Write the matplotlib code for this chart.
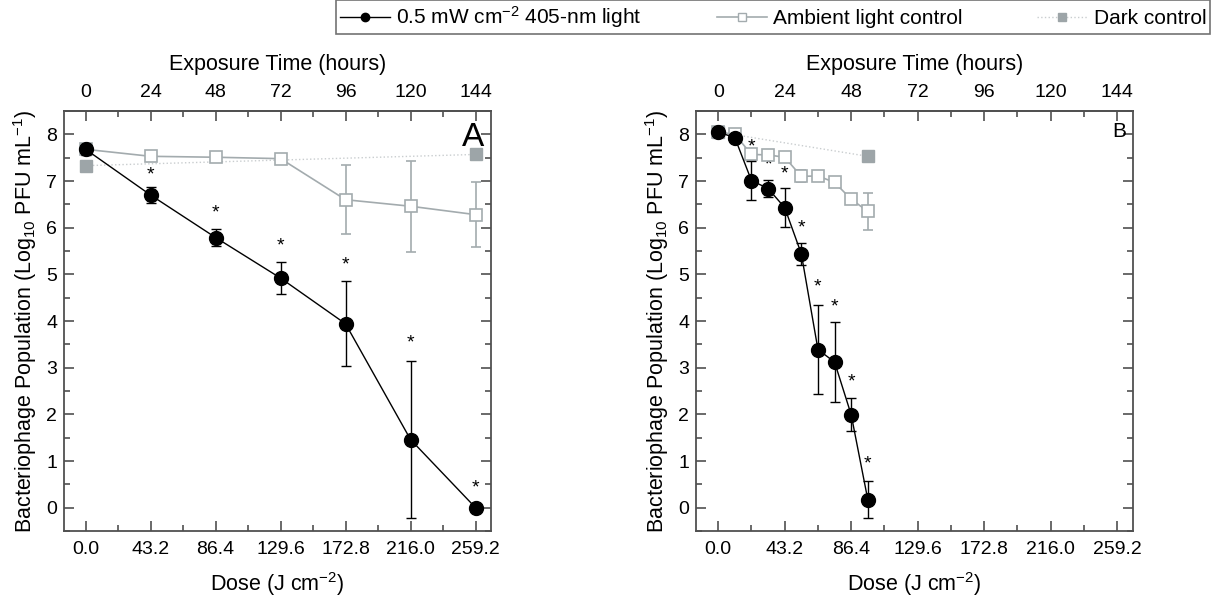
import matplotlib
matplotlib.use("Agg")
import matplotlib.pyplot as plt
from matplotlib.lines import Line2D
from matplotlib.ticker import MultipleLocator, FixedLocator

plt.rcParams['font.family'] = ['Liberation Sans', 'DejaVu Sans']
plt.rcParams['mathtext.fontset'] = 'custom'
plt.rcParams['mathtext.rm'] = 'Liberation Sans'
plt.rcParams['mathtext.it'] = 'Liberation Sans'
plt.rcParams['mathtext.default'] = 'regular'

# panel A - 144 h exposure
hours_a = [0, 24, 48, 72, 96, 120, 144]
light_a = [7.68, 6.70, 5.79, 4.92, 3.94, 1.46, 0.0]
light_a_err = [0.12, 0.17, 0.19, 0.35, 0.91, 1.69, 0.03]
amb_a = [7.68, 7.53, 7.51, 7.48, 6.60, 6.46, 6.28]
amb_a_err = [0.05, 0.04, 0.04, 0.04, 0.74, 0.97, 0.69]
dark_hours_a = [0, 144]
dark_a = [7.33, 7.57]
dark_a_err = [0.06, 0.09]
star_hours_a = [24, 48, 72, 96, 120, 144]
star_y_a = [7.13, 6.31, 5.60, 5.21, 3.53, 0.42]

# panel B - 54 h exposure
hours_b = [0, 6, 12, 18, 24, 30, 36, 42, 48, 54]
light_b = [8.05, 7.93, 7.01, 6.84, 6.43, 5.44, 3.39, 3.12, 1.99, 0.17]
light_b_err = [0.06, 0.04, 0.42, 0.18, 0.42, 0.24, 0.96, 0.85, 0.35, 0.40]
amb_b = [8.05, 8.00, 7.57, 7.56, 7.51, 7.10, 7.11, 6.97, 6.61, 6.35]
amb_b_err = [0.05, 0.05, 0.07, 0.04, 0.07, 0.13, 0.05, 0.03, 0.06, 0.39]
dark_hours_b = [0, 54]
dark_b = [8.05, 7.53]
dark_b_err = [0.05, 0.04]
star_hours_b = [12, 18, 24, 30, 36, 42, 48, 54]
star_y_b = [7.74, 7.34, 7.16, 6.00, 4.72, 4.31, 2.70, 0.94]

dose_ticks = [0, 43.2, 86.4, 129.6, 172.8, 216.0, 259.2]
hour_ticks = [0, 24, 48, 72, 96, 120, 144]
DOSE_PER_HOUR = 1.8

amb_col = '#a3abae'
dark_col = '#9da5a8'
dot_col = '#c9cdcf'
frame_col = '#505050'


def dose(h):
    return [x * DOSE_PER_HOUR for x in h]


def draw_panel(ax, hrs, light, light_err, amb, amb_err, dh, dark, dark_err, sh, sy, letter, letter_size):
    ax.errorbar(dose(dh), dark, yerr=dark_err, color=dot_col, ls=':', lw=1,
                marker='s', ms=8, mfc=dark_col, mec=dark_col, ecolor=dark_col,
                capsize=3.5, elinewidth=1, zorder=2)
    ax.errorbar(dose(hrs), amb, yerr=amb_err, color=amb_col, lw=1.2,
                marker='s', ms=8.5, mfc='white', mec=amb_col, mew=1.2, ecolor=amb_col,
                capsize=3.5, elinewidth=1.2, zorder=3)
    ax.errorbar(dose(hrs), light, yerr=light_err, color='black', lw=1,
                marker='o', ms=10, mfc='black', mec='black', ecolor='black',
                capsize=3.5, elinewidth=1, zorder=4)
    for h, y in zip(sh, sy):
        ax.text(h * DOSE_PER_HOUR, y, '*', ha='center', va='center', fontsize=14)

    ax.set_xlim(-8 * DOSE_PER_HOUR, 149.7 * DOSE_PER_HOUR)
    ax.set_ylim(-0.5, 8.5)
    ax.xaxis.set_major_locator(FixedLocator(dose_ticks))
    ax.set_xticklabels([f'{d:.1f}' for d in dose_ticks])
    ax.xaxis.set_minor_locator(MultipleLocator(21.6))
    ax.yaxis.set_major_locator(MultipleLocator(1))
    ax.yaxis.set_minor_locator(MultipleLocator(0.5))
    ax.tick_params(which='both', direction='in', top=False, right=True,
                   color=frame_col, labelsize=14, width=1.2)
    ax.tick_params(which='major', length=7)
    ax.tick_params(which='minor', length=4)
    ax.tick_params(axis='x', which='major', pad=7)
    ax.tick_params(axis='y', which='major', pad=5, right=True, labelright=False)
    for s in ax.spines.values():
        s.set_color(frame_col)
        s.set_linewidth(1.3)

    top = ax.secondary_xaxis('top', functions=(lambda d: d / DOSE_PER_HOUR,
                                               lambda h: h * DOSE_PER_HOUR))
    top.xaxis.set_major_locator(FixedLocator(hour_ticks))
    top.xaxis.set_minor_locator(MultipleLocator(12))
    top.tick_params(which='both', direction='in', color=frame_col,
                    labelsize=14, width=1.2)
    top.tick_params(which='major', length=7, pad=7)
    top.tick_params(which='minor', length=4)
    top.spines['top'].set_color(frame_col)
    top.spines['top'].set_linewidth(1.3)
    top.set_xlabel('Exposure Time (hours)', fontsize=15.5, labelpad=10)

    ax.set_xlabel('Dose (J cm$^{-2}$)', fontsize=15.5, labelpad=9)
    ax.set_ylabel('Bacteriophage Population (Log$_{10}$ PFU mL$^{-1}$)', fontsize=15.5, labelpad=5)
    ax.text(0.985, 0.975, letter, transform=ax.transAxes, ha='right', va='top',
            fontsize=letter_size)


fig = plt.figure(figsize=(12.25, 5.98), dpi=100)
ax_a = fig.add_axes([0.0522, 0.112, 0.3486, 0.7023])
ax_b = fig.add_axes([0.5682, 0.112, 0.3567, 0.7023])

draw_panel(ax_a, hours_a, light_a, light_a_err, amb_a, amb_a_err,
           dark_hours_a, dark_a, dark_a_err, star_hours_a, star_y_a, 'A', 24)
draw_panel(ax_b, hours_b, light_b, light_b_err, amb_b, amb_b_err,
           dark_hours_b, dark_b, dark_b_err, star_hours_b, star_y_b, 'B', 15)

handles = [
    Line2D([], [], color='black', lw=1, marker='o', ms=6, mfc='black'),
    Line2D([], [], color=amb_col, lw=1.2, marker='s', ms=6, mfc='white', mec=amb_col),
    Line2D([], [], color=dot_col, lw=1, ls=':', marker='s', ms=6, mfc=dark_col, mec=dark_col),
]
labels = ['0.5 mW cm$^{-2}$ 405-nm light', 'Ambient light control', 'Dark control']
leg = fig.legend(handles, labels, loc='center', bbox_to_anchor=(0.631, 0.971), ncol=3,
                 fontsize=15, frameon=True, fancybox=False, edgecolor=frame_col,
                 handlelength=2.4, handletextpad=0.3, columnspacing=3.6,
                 borderpad=0.2, borderaxespad=0)
leg.get_frame().set_linewidth(1.2)

fig.savefig('out.png', dpi=100)
